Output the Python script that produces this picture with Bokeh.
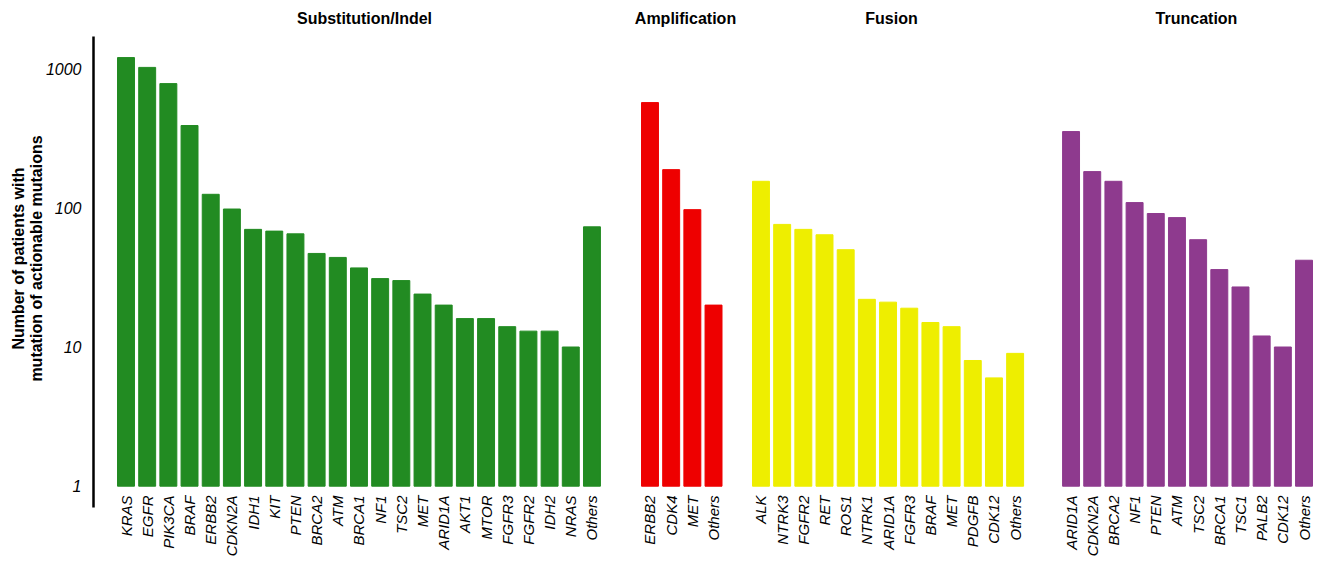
import math
from bokeh.plotting import figure
from bokeh.models import (ColumnDataSource, FixedTicker, PrintfTickFormatter, Range1d,
                          LinearAxis)
from bokeh.core.properties import value
from bokeh.embed import file_html
from bokeh.resources import INLINE

# ---------------- data ----------------
sub_genes = ["KRAS", "EGFR", "PIK3CA", "BRAF", "ERBB2", "CDKN2A", "IDH1", "KIT", "PTEN",
             "BRCA2", "ATM", "BRCA1", "NF1", "TSC2", "MET", "ARID1A", "AKT1", "MTOR",
             "FGFR3", "FGFR2", "IDH2", "NRAS", "Others"]
sub_counts = [1200, 1020, 780, 390, 125, 98, 70, 68, 65, 47, 44, 37, 31, 30, 24, 20, 16, 16,
              14, 13, 13, 10, 73]

amp_genes = ["ERBB2", "CDK4", "MET", "Others"]
amp_counts = [570, 188, 97, 20]

fus_genes = ["ALK", "NTRK3", "FGFR2", "RET", "ROS1", "NTRK1", "ARID1A", "FGFR3", "BRAF",
             "MET", "PDGFB", "CDK12", "Others"]
fus_counts = [155, 76, 70, 64, 50, 22, 21, 19, 15, 14, 8, 6, 9]

tru_genes = ["ARID1A", "CDKN2A", "BRCA2", "NF1", "PTEN", "ATM", "TSC2", "BRCA1", "TSC1",
             "PALB2", "CDK12", "Others"]
tru_counts = [353, 182, 155, 109, 91, 85, 59, 36, 27, 12, 10, 42]

group_names = ["Substitution/Indel", "Amplification", "Fusion", "Truncation"]
group_colors = ["#228B22", "#EE0000", "#EEEE00", "#8E3A8E"]
y_ticks = [1, 10, 100, 1000]
y_title_1 = "Number of patients with"
y_title_2 = "mutation of actionable mutaions"

# ---------------- layout ----------------
W, H = 1320, 560
FRAME_L, FRAME_R, FRAME_T, FRAME_B = 91, 1320, 0, 516   # canvas px
SLOT_PX = 21.18
X0_PX = 125.5            # x of first bar centre
BASE_PX = 485.7          # y of value 1
DECADE_PX = 139.2
GAPS = [1.74, 1.24, 1.64]
BAR_W = 0.8
TITLE_PX = [364, 685, 891, 1196]
TITLE_PY = 17.5
AXIS_PX, AXIS_TOP_PY, AXIS_BOT_PY = 93, 36, 507


def xd(px):
    return (px - X0_PX) / SLOT_PX


def yd(py):
    return 10 ** ((BASE_PX - py) / DECADE_PX)


groups = [(sub_genes, sub_counts), (amp_genes, amp_counts),
          (fus_genes, fus_counts), (tru_genes, tru_counts)]

xs, tops, colors, names = [], [], [], []
start = 0.0
for gi, (g, c) in enumerate(groups):
    for i, (name, cnt) in enumerate(zip(g, c)):
        xs.append(round(start + i, 2))
        tops.append(cnt)
        colors.append(group_colors[gi])
        names.append(name)
    if gi < len(GAPS):
        start = start + len(g) + GAPS[gi]

src = ColumnDataSource(dict(x=xs, top=tops, color=colors, bottom=[1] * len(xs)))

p = figure(width=W, height=H,
           x_range=Range1d(xd(FRAME_L), xd(FRAME_R)),
           y_range=Range1d(yd(FRAME_B), yd(FRAME_T)),
           y_axis_type="log", output_backend="svg", toolbar_location=None,
           min_border_left=FRAME_L, min_border_right=W - FRAME_R,
           min_border_top=FRAME_T, min_border_bottom=H - FRAME_B)
p.outline_line_color = None
p.grid.visible = False
p.background_fill_color = "white"
p.border_fill_color = "white"

p.vbar(x="x", top="top", bottom="bottom", width=BAR_W, color="color", source=src)

# y axis line
p.segment(x0=[xd(AXIS_PX)], x1=[xd(AXIS_PX)], y0=[yd(AXIS_BOT_PY)], y1=[yd(AXIS_TOP_PY)],
          line_color="black", line_width=2.5)

# facet titles
p.text(x=[xd(v) for v in TITLE_PX], y=[yd(TITLE_PY)] * 4, text=group_names,
       text_font=value("Liberation Sans"), text_font_style="bold", text_font_size="16px",
       text_align="center", text_baseline="middle", text_color="black")

# x axis
xa = p.xaxis[0]
xa.ticker = FixedTicker(ticks=xs)
xa.major_label_overrides = {x: n for x, n in zip(xs, names)}
xa.major_label_orientation = math.pi / 2
xa.major_label_standoff = -27
xa.axis_line_color = None
xa.major_tick_line_color = None
xa.minor_tick_line_color = None
xa.major_label_text_font = "Liberation Sans"
xa.major_label_text_font_style = "italic"
xa.major_label_text_font_size = "15px"
xa.major_label_text_color = "black"

# y axis (ticks + second title line)
ya = p.yaxis[0]
ya.ticker = FixedTicker(ticks=y_ticks)
ya.formatter = PrintfTickFormatter(format="%d")
ya.axis_line_color = None
ya.major_tick_line_color = None
ya.minor_tick_line_color = None
ya.major_label_standoff = 4
ya.major_label_text_font = "Liberation Sans"
ya.major_label_text_font_style = "italic"
ya.major_label_text_font_size = "16px"
ya.major_label_text_color = "black"
ya.axis_label = y_title_2
ya.axis_label_text_font = "Liberation Sans"
ya.axis_label_text_font_style = "bold"
ya.axis_label_text_font_size = "16px"
ya.axis_label_standoff = -2
ya.axis_label_text_color = "black"

# outer axis carrying the first title line
ya2 = LinearAxis(ticker=FixedTicker(ticks=[]), axis_label=y_title_1)
ya2.axis_line_color = None
ya2.major_tick_line_color = None
ya2.minor_tick_line_color = None
ya2.major_label_text_font_size = "0px"
ya2.axis_label_text_font = "Liberation Sans"
ya2.axis_label_text_font_style = "bold"
ya2.axis_label_text_font_size = "16px"
ya2.axis_label_standoff = -2
ya2.axis_label_text_color = "black"
p.add_layout(ya2, "left")

open("out.html", "w").write(file_html(p, INLINE))
